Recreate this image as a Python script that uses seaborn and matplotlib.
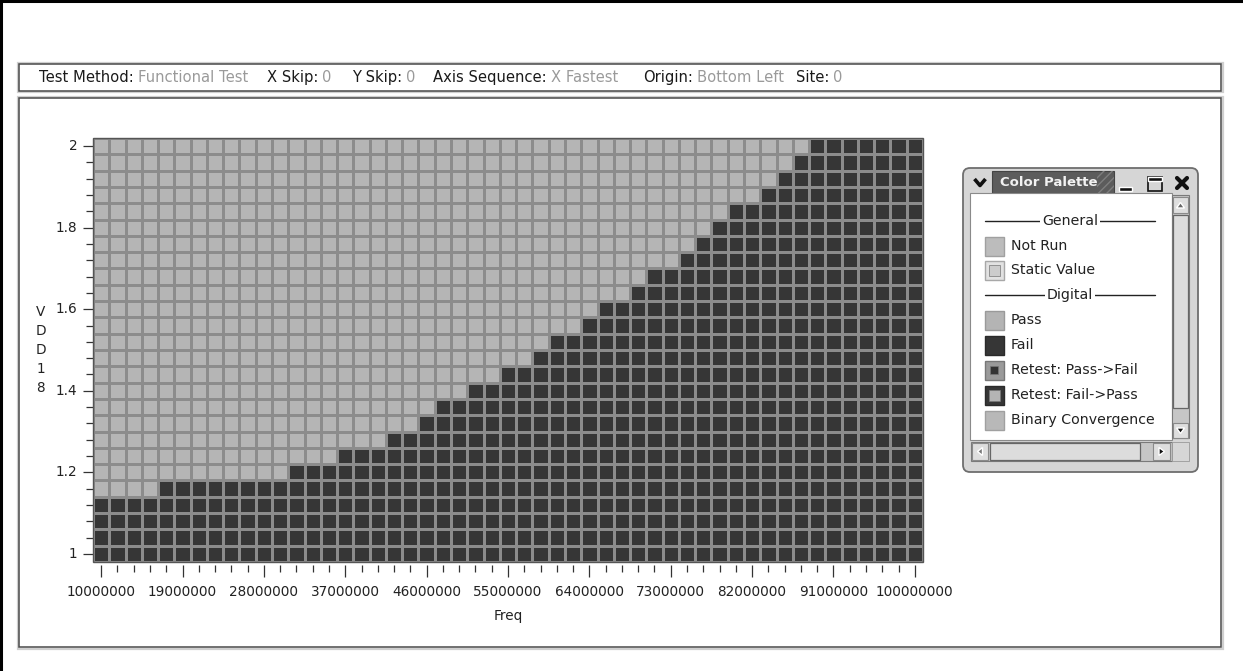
import numpy as np
import pandas as pd
import seaborn as sns
import matplotlib.pyplot as plt
from matplotlib.colors import ListedColormap
from matplotlib.patches import Rectangle, FancyBboxPatch, Polygon

# shmoo data: columns = Freq, rows = VDD18 (top to bottom)
freq = [10000000, 11800000, 13600000, 15400000, 17200000, 19000000, 20800000,
        22600000, 24400000, 26200000, 28000000, 29800000, 31600000, 33400000,
        35200000, 37000000, 38800000, 40600000, 42400000, 44200000, 46000000,
        47800000, 49600000, 51400000, 53200000, 55000000, 56800000, 58600000,
        60400000, 62200000, 64000000, 65800000, 67600000, 69400000, 71200000,
        73000000, 74800000, 76600000, 78400000, 80200000, 82000000, 83800000,
        85600000, 87400000, 89200000, 91000000, 92800000, 94600000, 96400000,
        98200000, 100000000]
vdd = [2.00, 1.96, 1.92, 1.88, 1.84, 1.80, 1.76, 1.72, 1.68, 1.64, 1.60, 1.56,
       1.52, 1.48, 1.44, 1.40, 1.36, 1.32, 1.28, 1.24, 1.20, 1.16, 1.12, 1.08,
       1.04, 1.00]
# highest VDD18 value that still fails, per frequency column
fail_top = [1.12, 1.12, 1.12, 1.12,
            1.16, 1.16, 1.16, 1.16, 1.16, 1.16, 1.16, 1.16,
            1.20, 1.20, 1.20, 1.24, 1.24, 1.24, 1.28, 1.28, 1.32,
            1.36, 1.36, 1.40, 1.40, 1.44, 1.44, 1.48, 1.52, 1.52, 1.56,
            1.60, 1.60, 1.64, 1.68, 1.68, 1.72, 1.76, 1.80, 1.84, 1.84,
            1.88, 1.92, 1.96, 2.00, 2.00, 2.00, 2.00, 2.00, 2.00, 2.00]
y_major = [2.0, 1.8, 1.6, 1.4, 1.2, 1.0]

header = [("Test Method:", "Functional Test"), ("X Skip:", "0"), ("Y Skip:", "0"),
          ("Axis Sequence:", "X Fastest"), ("Origin:", "Bottom Left"), ("Site:", "0")]
header_x = [39, 267, 352, 433, 643, 796]

palette_items = ["Not Run", "Static Value", "Pass", "Fail", "Retest: Pass->Fail",
                 "Retest: Fail->Pass", "Binary Convergence"]

PASS = "#b5b5b5"
FAIL = "#363636"

grid = pd.DataFrame(
    [[1 if v <= t + 1e-9 else 0 for t in fail_top] for v in vdd],
    index=vdd, columns=freq)

sns.set_style("white")
plt.rcParams["font.family"] = ["DejaVu Sans"]

W, H = 1243, 671
fig = plt.figure(figsize=(W / 100, H / 100), dpi=100)

# plot area in pixels: x 93..923, y 138..562
ax = fig.add_axes([93 / W, 1 - 562 / H, 830 / W, 424 / H])
sns.heatmap(grid, ax=ax, cmap=ListedColormap([PASS, FAIL]), vmin=0, vmax=1,
            cbar=False, linewidths=0.75, linecolor="#8c8c8c")

nx, ny = len(freq), len(vdd)
ax.set_xticks([i + 0.5 for i in range(0, nx, 5)])
ax.set_xticklabels([str(freq[i]) for i in range(0, nx, 5)], rotation=0)
ax.set_xticks([i + 0.5 for i in range(nx)], minor=True)
ymaj = [vdd.index(v) + 0.5 for v in y_major]
ax.set_yticks(ymaj)
ax.set_yticklabels([f"{v:g}" for v in y_major], rotation=0)
ax.set_yticks([i + 0.5 for i in range(ny)], minor=True)

ax.tick_params(axis="x", which="major", length=8.6, width=0.9, color="#333333",
               pad=5.5, labelsize=9.8, labelcolor="#222222")
ax.tick_params(axis="x", which="minor", length=5, width=0.9, color="#333333")
ax.tick_params(axis="y", which="major", length=7.2, width=0.9, color="#333333",
               pad=4, labelsize=9.8, labelcolor="#222222")
ax.tick_params(axis="y", which="minor", length=4.8, width=0.9, color="#333333")
ax.tick_params(bottom=True, left=True, which="both")

for s in ax.spines.values():
    s.set_visible(False)
ax.spines["bottom"].set_position(("outward", 2.5))
ax.add_patch(Rectangle((0, 0), 1, 1, transform=ax.transAxes, fill=False,
                       edgecolor="#555555", lw=1.0, clip_on=False, zorder=5))

ax.set_xlabel("Freq", fontsize=9.8, color="#222222")
ax.xaxis.set_label_coords(0.5, (562 - 616) / 424)
ax.xaxis.label.set_va("center")
ax.set_ylabel("V\nD\nD\n1\n8", rotation=0, fontsize=9.8, color="#222222",
              linespacing=1.45, ha="center", va="center")
ax.yaxis.set_label_coords((40.7 - 93) / 830, 0.5)

# ---- window chrome, drawn in pixel coordinates ----
ui = fig.add_axes([0, 0, 1, 1], zorder=10)
ui.set_xlim(0, W)
ui.set_ylim(H, 0)
ui.axis("off")
ui.patch.set_visible(False)

ui.plot([1.5, 1.5], [0, H], color="black", lw=2.2)
ui.plot([0, W], [1, 1], color="black", lw=2.2)

for (y0, y1) in [(64, 90.5), (98, 647)]:
    ui.add_patch(Rectangle((18, y0 - 1.5), 1205, y1 - y0 + 3, fill=False,
                           edgecolor="#cfcfcf", lw=1.6))
    ui.add_patch(Rectangle((19.5, y0), 1202, y1 - y0, fill=False,
                           edgecolor="#4a4a4a", lw=1.1))

renderer = fig.canvas.get_renderer()
for (lab, val), xl in zip(header, header_x):
    t = ui.text(xl, 77.7, lab, ha="left", va="center", fontsize=10.6, color="#1a1a1a")
    x_end = t.get_window_extent(renderer).x1
    ui.text(x_end + 4, 77.7, val, ha="left", va="center", fontsize=10.6, color="#9a9a9a")

# palette window
ui.add_patch(FancyBboxPatch((963, 168), 235, 304, boxstyle="round,pad=0,rounding_size=7",
                            facecolor="#d6d6d6", edgecolor="#6e6e6e", lw=1.3))
ui.add_patch(Rectangle((992, 171), 122, 22, facecolor="#5c5c5c", edgecolor="#444444", lw=0.8))
ui.add_patch(Rectangle((1097, 171), 17, 22, facecolor="none", edgecolor="#7e7e7e",
                       hatch="////", lw=0))
ui.text(1049, 182.5, "Color Palette", ha="center", va="center", fontsize=9.5,
        fontweight="bold", color="#f2f2f2")
ui.plot([974.5, 980, 985.5], [179, 185.5, 179], color="#111111", lw=2.6,
        solid_capstyle="butt")
ui.add_patch(Rectangle((1119, 187), 13, 4, facecolor="#111111"))
ui.add_patch(Rectangle((1148, 177), 14, 14, facecolor="none", edgecolor="#111111", lw=1.2))
ui.add_patch(Rectangle((1148, 177), 14, 3.5, facecolor="#111111"))
ui.plot([1177, 1187], [178, 188], color="#111111", lw=3)
ui.plot([1177, 1187], [188, 178], color="#111111", lw=3)

ui.add_patch(Rectangle((970, 193), 202, 247, facecolor="white", edgecolor="#8a8a8a", lw=0.8))
# vertical scrollbar
ui.add_patch(Rectangle((1172, 195), 17, 243, facecolor="#c6c6c6", edgecolor="#7a7a7a", lw=0.8))
ui.add_patch(Rectangle((1173, 197), 15, 16, facecolor="#dedede", edgecolor="#8a8a8a", lw=0.8))
ui.add_patch(Polygon([(1176.5, 208), (1184.5, 208), (1180.5, 202.5)], facecolor="#666666"))
ui.add_patch(Rectangle((1173, 215), 15, 193, facecolor="#dcdcdc", edgecolor="#666666", lw=0.9))
ui.add_patch(Rectangle((1173, 423), 15, 15, facecolor="#dedede", edgecolor="#8a8a8a", lw=0.8))
ui.add_patch(Polygon([(1176.5, 428), (1184.5, 428), (1180.5, 433.5)], facecolor="#111111"))
# horizontal scrollbar
ui.add_patch(Rectangle((971, 442), 201, 19, facecolor="#c6c6c6", edgecolor="#7a7a7a", lw=0.8))
ui.add_patch(Rectangle((972, 443), 16, 17, facecolor="#dedede", edgecolor="#8a8a8a", lw=0.8))
ui.add_patch(Polygon([(982.5, 447.5), (982.5, 455.5), (977.5, 451.5)], facecolor="#777777"))
ui.add_patch(Rectangle((990, 443), 150, 17, facecolor="#dcdcdc", edgecolor="#666666", lw=0.9))
ui.add_patch(Rectangle((1153, 443), 17, 17, facecolor="#dedede", edgecolor="#8a8a8a", lw=0.8))
ui.add_patch(Polygon([(1159, 447.5), (1159, 455.5), (1164.5, 451.5)], facecolor="#111111"))
ui.add_patch(Rectangle((1172, 442), 17, 19, facecolor="#d6d6d6", edgecolor="#9a9a9a", lw=0.6))

# palette entries
for label, yc in [("General", 221), ("Digital", 295)]:
    ui.plot([985, 1155], [yc, yc], color="#222222", lw=1.0)
    ui.text(1070, yc, label, ha="center", va="center", fontsize=10.2, color="#222222",
            bbox=dict(facecolor="white", edgecolor="none", pad=1.5))

item_y = [246, 270, 320.5, 345, 370, 395, 420]
outer = [("#bcbcbc", "#a0a0a0"), ("#e2e2e2", "#a8a8a8"), ("#b4b4b4", "#9a9a9a"),
         ("#363636", "#2a2a2a"), ("#9a9a9a", "#777777"), ("#363636", "#2a2a2a"),
         ("#b8b8b8", "#a0a0a0")]
inner = [None, ("#cccccc", 11), None, None, ("#333333", 8), ("#b4b4b4", 11), None]
for name, yc, (fc, ec), inn in zip(palette_items, item_y, outer, inner):
    ui.add_patch(Rectangle((985, yc - 9.5), 19, 19, facecolor=fc, edgecolor=ec, lw=1.0))
    if inn is not None:
        c, s = inn
        ui.add_patch(Rectangle((994.5 - s / 2, yc - s / 2), s, s, facecolor=c,
                               edgecolor="#777777", lw=0.5))
    ui.text(1011, yc, name, ha="left", va="center", fontsize=10.2, color="#222222")

fig.savefig("out.png", dpi=100)
